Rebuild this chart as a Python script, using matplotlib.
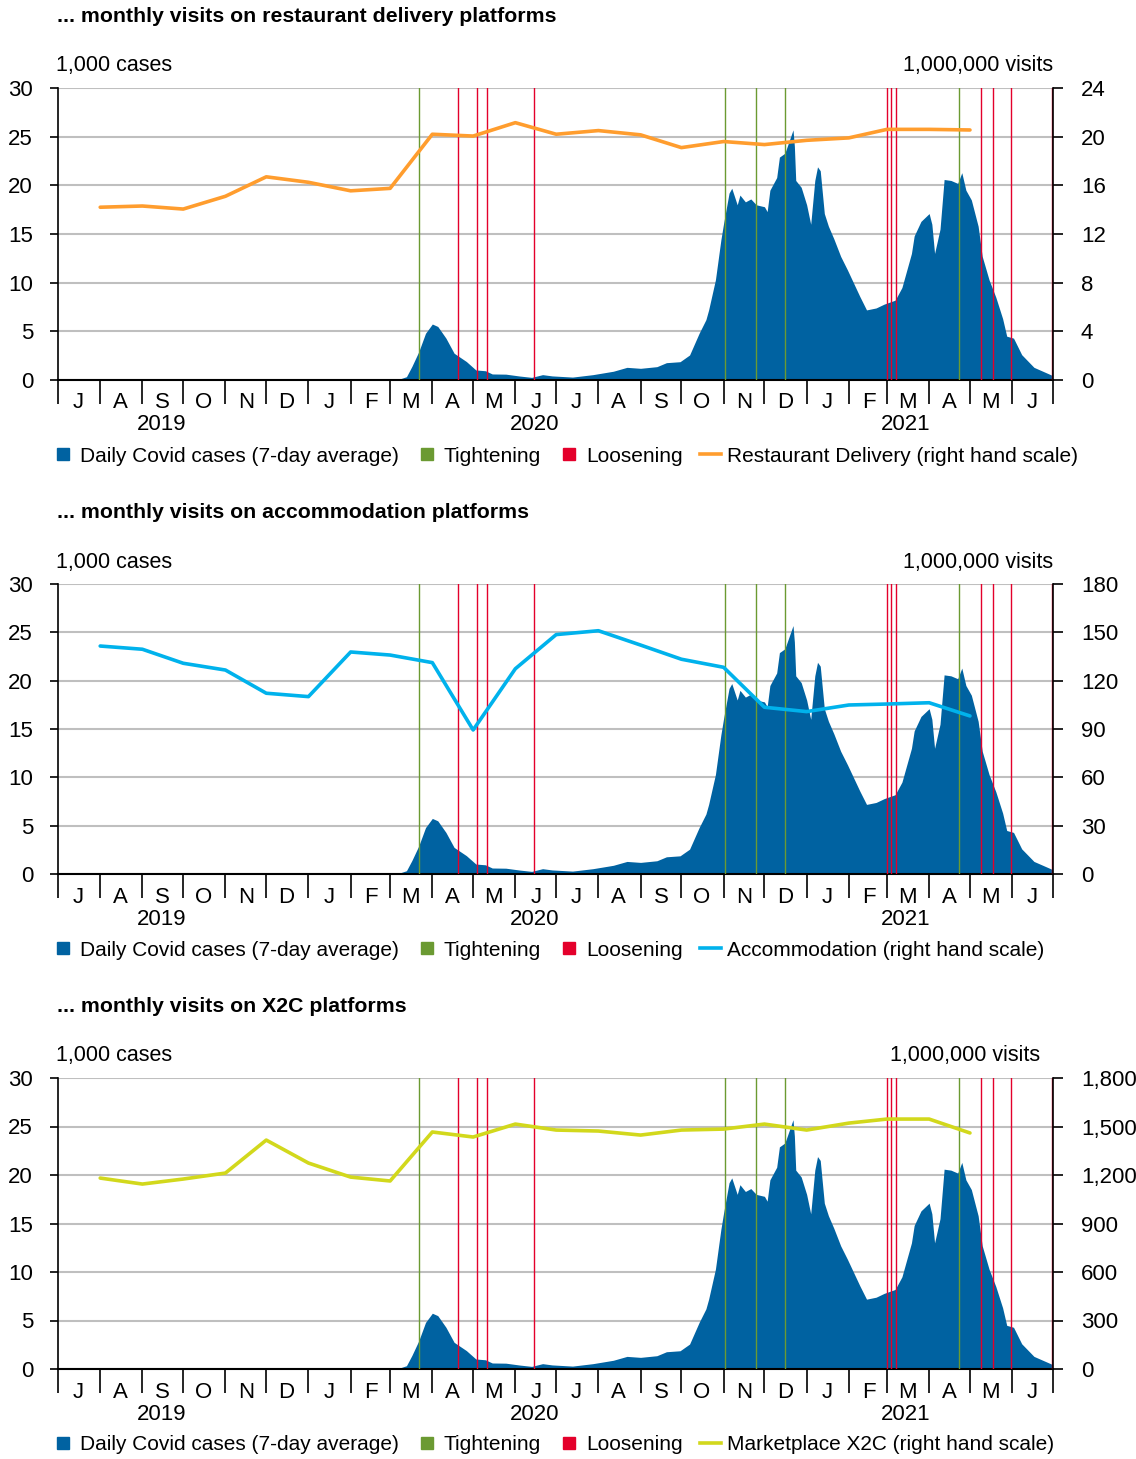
import matplotlib
matplotlib.use('Agg')
import matplotlib.pyplot as plt
import matplotlib.dates as mdates
from matplotlib.lines import Line2D
from matplotlib.ticker import FuncFormatter, MultipleLocator
import pandas as pd

plt.rcParams['font.family'] = ['Liberation Sans', 'DejaVu Sans']

# daily covid cases, 7-day average (1,000 cases)
covid_dates = [
    '2020-02-25', '2020-03-01', '2020-03-05', '2020-03-09', '2020-03-13', '2020-03-17',
    '2020-03-22', '2020-03-27', '2020-04-01', '2020-04-05', '2020-04-11', '2020-04-17',
    '2020-04-26', '2020-05-03', '2020-05-10', '2020-05-15', '2020-05-25', '2020-06-04',
    '2020-06-13', '2020-06-21', '2020-06-28', '2020-07-13', '2020-07-28', '2020-08-12',
    '2020-08-22', '2020-09-01', '2020-09-13', '2020-09-20', '2020-09-30',
    '2020-10-07', '2020-10-14', '2020-10-19', '2020-10-21', '2020-10-26', '2020-10-30',
    '2020-11-01', '2020-11-05', '2020-11-07', '2020-11-11', '2020-11-13', '2020-11-17',
    '2020-11-21', '2020-11-25', '2020-12-01', '2020-12-03', '2020-12-05', '2020-12-10',
    '2020-12-12', '2020-12-16', '2020-12-19', '2020-12-22', '2020-12-23', '2020-12-24',
    '2020-12-28', '2021-01-01', '2021-01-04', '2021-01-07', '2021-01-09', '2021-01-11',
    '2021-01-14', '2021-01-17', '2021-01-21', '2021-01-26', '2021-01-31', '2021-02-05',
    '2021-02-09', '2021-02-14', '2021-02-21', '2021-02-27', '2021-03-07', '2021-03-12',
    '2021-03-15', '2021-03-19', '2021-03-21', '2021-03-26', '2021-04-01', '2021-04-03',
    '2021-04-05', '2021-04-09', '2021-04-12', '2021-04-17', '2021-04-22', '2021-04-25',
    '2021-04-28', '2021-05-02', '2021-05-07', '2021-05-10', '2021-05-15', '2021-05-20',
    '2021-05-25', '2021-05-28', '2021-06-02', '2021-06-08', '2021-06-17', '2021-06-30',
]
covid_cases = [
    0, 0.02, 0.05, 0.15, 0.34, 1.4, 2.9, 4.8, 5.75, 5.5, 4.3, 2.75, 1.9, 1.03, 0.95,
    0.62, 0.6, 0.41, 0.27, 0.55, 0.42, 0.3, 0.55, 0.9, 1.3, 1.2, 1.37, 1.78, 1.88,
    2.57, 4.8, 6.2, 7.2, 10.3, 14.4, 16.1, 19.2, 19.7, 18.0, 19.0, 18.3, 18.6, 18.0,
    17.8, 17.3, 19.5, 20.8, 22.9, 23.3, 24.5, 25.7, 24.0, 20.5, 19.8, 18.0, 16.0, 20.5,
    21.9, 21.5, 17.1, 15.8, 14.5, 12.7, 11.3, 9.8, 8.6, 7.2, 7.4, 7.8, 8.2, 9.5, 11.0,
    13.0, 14.8, 16.3, 17.1, 16.0, 13.0, 15.5, 20.6, 20.5, 20.2, 21.3, 19.5, 18.5, 15.8,
    12.7, 10.3, 8.5, 6.3, 4.5, 4.3, 2.6, 1.3, 0.5,
]

tightening = ['2020-03-22', '2020-11-02', '2020-11-25', '2020-12-16', '2021-04-23']
loosening = ['2020-04-20', '2020-05-04', '2020-05-11', '2020-06-15', '2021-03-01',
             '2021-03-04', '2021-03-08', '2021-05-09', '2021-05-18', '2021-05-31',
             '2021-06-30']

# monthly visits (1,000,000 visits), Aug 2019 - May 2021
visit_months = pd.date_range('2019-08-01', '2021-05-01', freq='MS')
restaurant = [14.2, 14.3, 14.05, 15.1, 16.7, 16.25, 15.55, 15.75, 20.2, 20.05, 21.15,
              20.2, 20.5, 20.15, 19.1, 19.6, 19.35, 19.7, 19.9, 20.6, 20.6, 20.55]
accommodation = [141.5, 139.5, 130.8, 126.6, 112.2, 110.1, 137.8, 135.9, 131.2, 89.4,
                 127.4, 148.6, 151.0, 142.1, 133.3, 128.3, 103.5, 100.8, 104.9, 105.5,
                 106.3, 98.1]
x2c = [1181, 1144, 1175, 1212, 1416, 1274, 1187, 1163, 1466, 1435, 1515, 1478, 1472,
       1447, 1478, 1484, 1515, 1478, 1521, 1546, 1546, 1460]

years = ['2019', '2020', '2021']
year_pos = ['2019-09-15', '2020-06-15', '2021-03-15']

BLUE = '#0062a1'
GREEN = '#6b9a32'
RED = '#e4002b'
GRID = '#bfbfbf'

panels = [
    dict(title='... monthly visits on restaurant delivery platforms', top=88, bottom=380,
         series=restaurant, color='#ff9d2e', rmax=24, rstep=4, unit_x=1053,
         label='Restaurant Delivery (right hand scale)'),
    dict(title='... monthly visits on accommodation platforms', top=584, bottom=874,
         series=accommodation, color='#00b2ec', rmax=180, rstep=30, unit_x=1053,
         label='Accommodation (right hand scale)'),
    dict(title='... monthly visits on X2C platforms', top=1078, bottom=1369,
         series=x2c, color='#d2d81c', rmax=1800, rstep=300, unit_x=1040,
         label='Marketplace X2C (right hand scale)'),
]

W, H = 1136, 1459
fig = plt.figure(figsize=(W / 100, H / 100), dpi=100)
cdates = pd.to_datetime(covid_dates)
x0, x1 = pd.Timestamp('2019-07-01'), pd.Timestamp('2021-07-01')
LEFT, RIGHT = 58, 1053

for p in panels:
    hpx = p['bottom'] - p['top']
    ax = fig.add_axes([LEFT / W, 1 - p['bottom'] / H, (RIGHT - LEFT) / W, hpx / H])
    ax2 = ax.twinx()

    ax.fill_between(cdates, covid_cases, 0, color=BLUE, lw=0, zorder=2)
    for d in tightening:
        ax.axvline(pd.Timestamp(d), color=GREEN, lw=1.0, zorder=3)
    for d in loosening:
        ax.axvline(pd.Timestamp(d), color=RED, lw=1.0, zorder=3)
    ax2.plot(visit_months, p['series'], color=p['color'], lw=2.6, solid_capstyle='round')

    ax.set_xlim(x0, x1)
    ax.set_ylim(0, 30)
    ax.yaxis.set_major_locator(MultipleLocator(5))
    ax2.set_ylim(0, p['rmax'])
    ax2.yaxis.set_major_locator(MultipleLocator(p['rstep']))
    ax2.yaxis.set_major_formatter(FuncFormatter(lambda v, pos: f'{v:,.0f}'))
    ax.yaxis.grid(True, color=GRID, lw=1.5)
    ax.set_axisbelow(True)

    ax.xaxis.set_major_locator(mdates.MonthLocator())
    ax.xaxis.set_major_formatter(FuncFormatter(lambda v, pos: ''))
    ax.xaxis.set_minor_locator(mdates.MonthLocator(bymonthday=16))
    ax.xaxis.set_minor_formatter(
        FuncFormatter(lambda v, pos: mdates.num2date(v).strftime('%b')[0]))
    ax.tick_params(axis='x', which='major', length=17, width=1.2, color='black')
    ax.tick_params(axis='x', which='minor', length=0, pad=9, labelsize=16)
    ax.tick_params(axis='y', length=6, width=1.2, pad=12, labelsize=16)
    ax2.tick_params(axis='y', length=7, width=1.2, pad=13, labelsize=16)

    for s in ['top', 'right']:
        ax.spines[s].set_visible(False)
    for s in ['top', 'left', 'bottom']:
        ax2.spines[s].set_visible(False)
    ax.spines['left'].set_linewidth(1.2)
    ax.spines['bottom'].set_linewidth(1.5)
    ax2.spines['right'].set_linewidth(1.2)

    for y, d in zip(years, year_pos):
        ax.text(pd.Timestamp(d), -45 / hpx, y, transform=ax.get_xaxis_transform(),
                ha='center', va='center', fontsize=16)

    fig.text(57 / W, 1 - (p['top'] - 72) / H, p['title'], fontsize=15.3,
             fontweight='bold', va='center', ha='left')
    fig.text(56 / W, 1 - (p['top'] - 22) / H, '1,000 cases', fontsize=15.5,
             va='center', ha='left')
    fig.text(p['unit_x'] / W, 1 - (p['top'] - 22) / H, '1,000,000 visits',
             fontsize=15.5, va='center', ha='right')

    handles = [
        Line2D([], [], marker='s', ls='none', color=BLUE, markersize=8),
        Line2D([], [], marker='s', ls='none', color=GREEN, markersize=8),
        Line2D([], [], marker='s', ls='none', color=RED, markersize=8),
        Line2D([], [], color=p['color'], lw=2.6),
    ]
    labels = ['Daily Covid cases (7-day average)', 'Tightening', 'Loosening', p['label']]
    fig.legend(handles, labels, loc='center left',
               bbox_to_anchor=(53 / W, 1 - (p['bottom'] + 76) / H), ncol=4,
               frameon=False, fontsize=15, handlelength=1.0, handletextpad=0.3,
               columnspacing=0.85, borderpad=0, borderaxespad=0)

fig.savefig('out.png', dpi=100)
